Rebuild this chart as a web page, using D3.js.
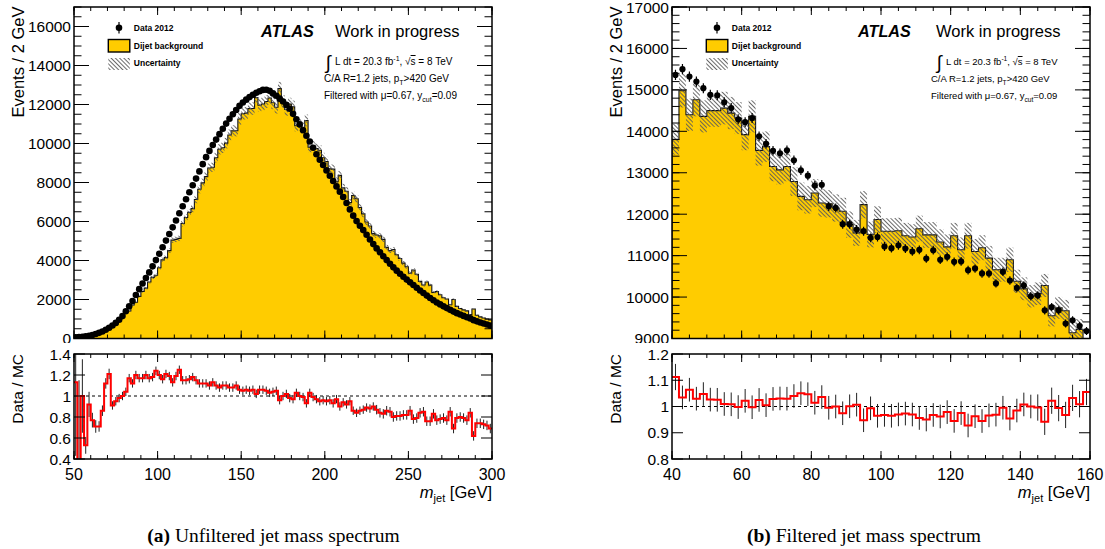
<!DOCTYPE html>
<html>
<head>
<meta charset="utf-8">
<script src="https://cdn.jsdelivr.net/npm/d3@7"></script>
<style>
  body { margin: 0; background: #fff; }
  svg { display: block; }
  text { font-family: "Liberation Sans", Arial, Helvetica, sans-serif; fill: #000; }
</style>
</head>
<body>
<svg id="fig" width="1105" height="549"></svg>
<script>
// ---------- (a) unfiltered jet mass, 2 GeV bins from 50 to 300 GeV ----------
const leftBinStart = 50, leftBinWidth = 2;
const leftData = [
  60, 70, 90, 110, 140, 180, 230, 290, 360, 450,
  550, 670, 800, 960, 1150, 1400, 1650, 1920, 2230, 2530,
  2820, 3100, 3390, 3700, 4020, 4350, 4680, 5020, 5360, 5700,
  6050, 6420, 6780, 7140, 7500, 7860, 8200, 8570, 8940, 9300,
  9620, 9920, 10200, 10480, 10760, 11020, 11270, 11500, 11720, 11930,
  12100, 12250, 12380, 12500, 12600, 12680, 12750, 12760, 12700, 12570,
  12450, 12300, 12150, 11980, 11780, 11520, 11240, 10980, 10680, 10400,
  10100, 9780, 9450, 9170, 8900, 8620, 8350, 8080, 7800, 7530,
  7260, 6950, 6620, 6300, 6020, 5780, 5560, 5320, 5080, 4840,
  4620, 4420, 4220, 4020, 3830, 3650, 3480, 3320, 3170, 3020,
  2880, 2740, 2600, 2460, 2330, 2200, 2080, 1960, 1850, 1750,
  1650, 1560, 1470, 1380, 1300, 1230, 1160, 1090, 1030, 940,
  880, 820, 770, 720, 660
];
// data / MC per bin
const leftRatio = [
  1.13, 0.35, 1.00, 0.53, 0.92, 0.77, 0.71, 0.71, 0.86, 1.12,
  1.21, 0.91, 0.95, 0.98, 1.00, 1.04, 1.17, 1.12, 1.20, 1.17,
  1.17, 1.20, 1.17, 1.18, 1.24, 1.20, 1.16, 1.21, 1.19, 1.13,
  1.19, 1.25, 1.15, 1.15, 1.16, 1.18, 1.15, 1.12, 1.12, 1.12,
  1.10, 1.13, 1.10, 1.08, 1.10, 1.10, 1.08, 1.08, 1.10, 1.06,
  1.05, 1.06, 1.05, 1.06, 1.02, 1.06, 1.06, 1.05, 1.03, 1.04,
  1.05, 0.96, 1.00, 1.02, 0.98, 0.97, 1.03, 1.00, 0.99, 0.93,
  1.03, 0.99, 0.97, 0.95, 0.96, 0.95, 0.96, 0.93, 0.97, 0.90,
  0.94, 0.92, 0.95, 0.86, 0.84, 0.86, 0.87, 0.89, 0.88, 0.90,
  0.87, 0.84, 0.83, 0.86, 0.85, 0.80, 0.81, 0.81, 0.82, 0.82,
  0.86, 0.78, 0.79, 0.84, 0.85, 0.76, 0.76, 0.83, 0.77, 0.78,
  0.79, 0.77, 0.85, 0.69, 0.79, 0.80, 0.79, 0.77, 0.84, 0.62,
  0.74, 0.74, 0.73, 0.72, 0.69
];
// absolute uncertainty on the ratio per bin
const leftRatioErr = [
  0.70, 0.80, 0.35, 0.08, 0.12, 0.07, 0.06, 0.05, 0.05, 0.05,
  0.05, 0.04, 0.04, 0.04, 0.04, 0.04, 0.04, 0.04, 0.04, 0.04,
  0.04, 0.04, 0.04, 0.04, 0.04, 0.04, 0.04, 0.04, 0.04, 0.04,
  0.04, 0.04, 0.04, 0.04, 0.04, 0.04, 0.04, 0.04, 0.04, 0.04,
  0.04, 0.04, 0.04, 0.04, 0.04, 0.04, 0.04, 0.04, 0.04, 0.04,
  0.04, 0.04, 0.04, 0.04, 0.04, 0.04, 0.04, 0.04, 0.04, 0.04,
  0.04, 0.04, 0.04, 0.04, 0.04, 0.04, 0.04, 0.04, 0.04, 0.04,
  0.04, 0.04, 0.04, 0.04, 0.04, 0.04, 0.04, 0.04, 0.04, 0.04,
  0.04, 0.04, 0.04, 0.04, 0.04, 0.04, 0.04, 0.04, 0.04, 0.04,
  0.045, 0.045, 0.045, 0.045, 0.045, 0.045, 0.045, 0.045, 0.045, 0.045,
  0.045, 0.045, 0.045, 0.045, 0.045, 0.045, 0.045, 0.045, 0.045, 0.045,
  0.045, 0.045, 0.045, 0.045, 0.045, 0.045, 0.045, 0.045, 0.045, 0.045,
  0.045, 0.045, 0.045, 0.045, 0.045
];
const leftSystRel = 0.027;
const leftXTicks = [50, 100, 150, 200, 250, 300];
const leftYTicks = [0, 2000, 4000, 6000, 8000, 10000, 12000, 14000, 16000];
const leftRatioTicks = [0.4, 0.6, 0.8, 1.0, 1.2, 1.4];

// ---------- (b) filtered jet mass, 2 GeV bins from 40 to 160 GeV ----------
const rightBinStart = 40, rightBinWidth = 2;
const rightData = [
  15360, 15500, 15320, 15200, 15040, 14880, 14870, 14700, 14560, 14290,
  14220, 14320, 13880, 13700, 13530, 13470, 13540, 13300, 13060, 12930,
  12690, 12710, 12190, 12150, 11760, 11760, 11630, 11590, 11430, 11450,
  11220, 11180, 11250, 11170, 11100, 11140, 10930, 11130, 10900, 10970,
  10850, 10860, 10650, 10690, 10570, 10570, 10330, 10610, 10400, 10220,
  10280, 10020, 10040, 9680, 9760, 9680, 9360, 9440, 9300, 9180
];
const rightMC = [
  13810, 14980, 14400, 14760, 14360, 14500, 14500, 14560, 14440, 14320,
  13920, 14360, 13540, 13630, 13150, 13070, 13150, 12790, 12430, 12350,
  12510, 12270, 12250, 12150, 12070, 11750, 11550, 12230, 11510, 11870,
  11590, 11590, 11600, 11480, 11450, 11650, 11500, 11500, 11330, 11210,
  11480, 11140, 11480, 11100, 11190, 10940, 10660, 10660, 10900, 10380,
  10200, 10020, 10080, 10280, 9550, 9740, 9670, 9140, 9220, 8700
];
const rightRatioErr = [
  0.050, 0.045, 0.045, 0.045, 0.045, 0.045, 0.045, 0.045, 0.045, 0.045,
  0.045, 0.045, 0.045, 0.045, 0.045, 0.045, 0.045, 0.045, 0.045, 0.045,
  0.045, 0.045, 0.045, 0.045, 0.045, 0.045, 0.045, 0.045, 0.045, 0.045,
  0.045, 0.045, 0.045, 0.045, 0.045, 0.045, 0.045, 0.045, 0.045, 0.045,
  0.045, 0.045, 0.045, 0.045, 0.045, 0.045, 0.045, 0.045, 0.045, 0.045,
  0.045, 0.045, 0.050, 0.050, 0.050, 0.050, 0.050, 0.050, 0.050, 0.050
];
const rightSystRel = 0.027;
const rightXTicks = [40, 60, 80, 100, 120, 140, 160];
const rightYTicks = [9000, 10000, 11000, 12000, 13000, 14000, 15000, 16000, 17000];
const rightRatioTicks = [0.8, 0.9, 1.0, 1.1, 1.2];

const captions = [
  { tag: "(a)", text: " Unfiltered jet mass spectrum" },
  { tag: "(b)", text: " Filtered jet mass spectrum" }
];

// ---------- drawing ----------
const YELLOW = "#ffcc00";
const svg = d3.select("#fig");
const defs = svg.append("defs");

const hatch = defs.append("pattern")
  .attr("id", "hatch")
  .attr("patternUnits", "userSpaceOnUse")
  .attr("width", 3).attr("height", 3)
  .attr("patternTransform", "rotate(-45)");
hatch.append("line")
  .attr("x1", 1.5).attr("y1", -1).attr("x2", 1.5).attr("y2", 4)
  .attr("stroke", "#5a5a5a").attr("stroke-width", 0.9);

const fmtRatio = v => (Math.abs(v - 1) < 1e-9 ? "1" : d3.format(".1f")(v));

function stepPath(x, y, edges, width, vals, baseY) {
  let d = "";
  vals.forEach((v, i) => {
    const xl = x(edges[i]), xr = x(edges[i] + width), yy = y(v);
    if (i === 0) d += baseY != null ? `M${xl},${baseY}L${xl},${yy}` : `M${xl},${yy}`;
    else d += `L${xl},${yy}`;
    d += `L${xr},${yy}`;
  });
  if (baseY != null) d += `L${x(edges[edges.length - 1] + width)},${baseY}Z`;
  return d;
}

function ticks(g, x, y, spec) {
  const [x0, x1] = x.range();
  const [yb, yt] = y.range();
  const tk = (x1_, y1_, x2_, y2_) => g.append("line")
    .attr("x1", x1_).attr("y1", y1_).attr("x2", x2_).attr("y2", y2_)
    .attr("stroke", "#000").attr("stroke-width", 1);
  spec.xMinor.forEach(v => { const p = x(v); tk(p, yb, p, yb - spec.xMinLen); tk(p, yt, p, yt + spec.xMinLen); });
  spec.xMajor.forEach(v => { const p = x(v); tk(p, yb, p, yb - spec.xMajLen); tk(p, yt, p, yt + spec.xMajLen); });
  spec.yMinor.forEach(v => { const p = y(v); tk(x0, p, x0 + spec.yMinLen, p); tk(x1, p, x1 - spec.yMinLen, p); });
  spec.yMajor.forEach(v => { const p = y(v); tk(x0, p, x0 + spec.yMajLen, p); tk(x1, p, x1 - spec.yMajLen, p); });
}

function drawPanel(p) {
  const edges = p.data.map((_, i) => p.binStart + i * p.binWidth);
  const x = d3.scaleLinear(p.xDomain, [p.x0, p.x1]);
  const y = d3.scaleLinear(p.yDomain, [p.yBot, p.yTop]);
  const yr = d3.scaleLinear(p.rDomain, [p.rBot, p.rTop]);

  defs.append("clipPath").attr("id", "top" + p.key).append("rect")
    .attr("x", p.x0).attr("y", p.yTop).attr("width", p.x1 - p.x0).attr("height", p.yBot - p.yTop);
  defs.append("clipPath").attr("id", "rat" + p.key).append("rect")
    .attr("x", p.x0).attr("y", p.rTop).attr("width", p.x1 - p.x0).attr("height", p.rBot - p.rTop);

  // ---- upper pad ----
  const top = svg.append("g");
  const plot = top.append("g").attr("clip-path", `url(#top${p.key})`);
  plot.append("path")
    .attr("d", stepPath(x, y, edges, p.binWidth, p.mc, p.yBot + 3))
    .attr("fill", YELLOW).attr("stroke", "#111").attr("stroke-width", 1.1);
  plot.selectAll("rect.band").data(p.mc).join("rect")
    .attr("class", "band")
    .attr("x", (d, i) => x(edges[i]))
    .attr("width", (d, i) => x(edges[i] + p.binWidth) - x(edges[i]))
    .attr("y", d => y(d * (1 + p.syst)))
    .attr("height", d => y(d * (1 - p.syst)) - y(d * (1 + p.syst)))
    .attr("fill", "url(#hatch)");
  plot.selectAll("line.err").data(p.data).join("line")
    .attr("class", "err")
    .attr("x1", (d, i) => x(edges[i] + p.binWidth / 2))
    .attr("x2", (d, i) => x(edges[i] + p.binWidth / 2))
    .attr("y1", d => y(d + Math.sqrt(d)))
    .attr("y2", d => y(d - Math.sqrt(d)))
    .attr("stroke", "#000").attr("stroke-width", 1.2);
  plot.selectAll("circle.pt").data(p.data).join("circle")
    .attr("class", "pt")
    .attr("cx", (d, i) => x(edges[i] + p.binWidth / 2))
    .attr("cy", d => y(d))
    .attr("r", p.markerR)
    .attr("fill", "#000");

  top.append("rect")
    .attr("x", p.x0).attr("y", p.yTop).attr("width", p.x1 - p.x0).attr("height", p.yBot - p.yTop)
    .attr("fill", "none").attr("stroke", "#000").attr("stroke-width", 1.5);
  ticks(top, x, y, {
    xMajor: p.xTicks, xMinor: d3.range(p.xDomain[0], p.xDomain[1] + 0.001, p.xMinorStep),
    yMajor: d3.range(p.yDomain[0], p.yDomain[1] + 1, p.yMajorStep),
    yMinor: d3.range(p.yDomain[0], p.yDomain[1] + 1, p.yMinorStep),
    xMajLen: 8, xMinLen: 4, yMajLen: 15, yMinLen: 7.5
  });
  top.selectAll("text.ylab").data(p.yTicks).join("text")
    .attr("class", "ylab")
    .attr("x", p.x0 - 3).attr("y", d => y(d)).attr("dy", "0.36em")
    .attr("text-anchor", "end").attr("font-size", 15.5)
    .text(d => d);
  top.append("text")
    .attr("transform", `translate(${p.x0 - 50.5},${p.yTop - 0.5}) rotate(-90)`)
    .attr("text-anchor", "end").attr("font-size", 16.5)
    .text("Events / 2 GeV");

  // legend
  const lg = top.append("g");
  const lx = p.x0 + 34.3;
  lg.append("line").attr("x1", lx + 10.7).attr("x2", lx + 10.7).attr("y1", 22).attr("y2", 33.5)
    .attr("stroke", "#000").attr("stroke-width", 1.2);
  lg.append("circle").attr("cx", lx + 10.7).attr("cy", 27.7).attr("r", 3.3).attr("fill", "#000");
  lg.append("rect").attr("x", lx).attr("y", 39.5).attr("width", 21.5).attr("height", 12.5)
    .attr("fill", YELLOW).attr("stroke", "#000").attr("stroke-width", 1.4);
  lg.append("rect").attr("x", lx).attr("y", 58).attr("width", 21.5).attr("height", 12)
    .attr("fill", "url(#hatch)");
  [["Data 2012", 30.8], ["Dijet background", 48.6], ["Uncertainty", 66.2]].forEach(([t, by]) =>
    lg.append("text").attr("x", lx + 25.5).attr("y", by)
      .attr("font-size", 8.5).attr("font-weight", "bold").text(t));

  // labels
  const lab = top.append("g");
  lab.append("text").attr("x", p.atlasX).attr("y", 36.5)
    .attr("font-size", 16.2).attr("font-weight", "bold").attr("font-style", "italic").text("ATLAS");
  lab.append("text").attr("x", p.wipX).attr("y", 36.5)
    .attr("font-size", 16.5).text("Work in progress");
  lab.append("text").attr("x", p.intX).attr("y", 69)
    .attr("font-size", 19).attr("font-family", "DejaVu Sans").text("\u222B");
  const l1 = lab.append("text").attr("x", p.intX + 9.5).attr("y", 65).attr("font-size", p.infoSize);
  l1.append("tspan").text("L dt = 20.3 fb");
  l1.append("tspan").attr("dy", -4).attr("font-size", p.infoSize * 0.7).text("-1");
  l1.append("tspan").attr("dy", 4).text(", \u221A");
  l1.append("tspan").attr("text-decoration", "overline").text("s");
  l1.append("tspan").text(" = 8 TeV");
  const l2 = lab.append("text").attr("x", p.infoX).attr("y", 82).attr("font-size", p.infoSize);
  l2.append("tspan").text("C/A R=1.2 jets, p");
  l2.append("tspan").attr("dy", 3).attr("font-size", p.infoSize * 0.7).text("T");
  l2.append("tspan").attr("dy", -3).text(">420 GeV");
  const l3 = lab.append("text").attr("x", p.infoX).attr("y", 99).attr("font-size", p.infoSize);
  l3.append("tspan").text("Filtered with \u03BC=0.67, y");
  l3.append("tspan").attr("dy", 3).attr("font-size", p.infoSize * 0.7).text("cut");
  l3.append("tspan").attr("dy", -3).text("=0.09");

  // ---- lower (ratio) pad, drawn over the lower edge of the upper pad ----
  const rat = svg.append("g");
  rat.append("rect").attr("x", p.padX0).attr("y", 343).attr("width", p.padW).attr("height", 160).attr("fill", "#fff");
  const rplot = rat.append("g").attr("clip-path", `url(#rat${p.key})`);
  rplot.append("line").attr("x1", p.x0).attr("x2", p.x1).attr("y1", yr(1)).attr("y2", yr(1))
    .attr("stroke", "#000").attr("stroke-width", 1).attr("stroke-dasharray", "3,3");
  rplot.selectAll("line.rerr").data(p.ratio).join("line")
    .attr("class", "rerr")
    .attr("x1", (d, i) => x(edges[i] + p.binWidth / 2))
    .attr("x2", (d, i) => x(edges[i] + p.binWidth / 2))
    .attr("y1", (d, i) => yr(d + p.ratioErr[i]))
    .attr("y2", (d, i) => yr(d - p.ratioErr[i]))
    .attr("stroke", "#222").attr("stroke-width", 1);
  rplot.append("path")
    .attr("d", stepPath(x, yr, edges, p.binWidth, p.ratio, null))
    .attr("fill", "none").attr("stroke", "#ff0000").attr("stroke-width", 2);
  rat.append("rect")
    .attr("x", p.x0).attr("y", p.rTop).attr("width", p.x1 - p.x0).attr("height", p.rBot - p.rTop)
    .attr("fill", "none").attr("stroke", "#000").attr("stroke-width", 1.5);
  ticks(rat, x, yr, {
    xMajor: p.xTicks, xMinor: d3.range(p.xDomain[0], p.xDomain[1] + 0.001, p.xMinorStep),
    yMajor: p.rTicks, yMinor: [],
    xMajLen: 8, xMinLen: 4, yMajLen: 11, yMinLen: 0
  });
  rat.selectAll("text.rylab").data(p.rTicks).join("text")
    .attr("class", "rylab")
    .attr("x", p.x0 - 3).attr("y", d => yr(d)).attr("dy", "0.36em")
    .attr("text-anchor", "end").attr("font-size", 15.5)
    .text(fmtRatio);
  rat.selectAll("text.xlab").data(p.xTicks).join("text")
    .attr("class", "xlab")
    .attr("x", d => x(d)).attr("y", 479.5)
    .attr("text-anchor", "middle").attr("font-size", 16)
    .text(d => d);
  rat.append("text")
    .attr("transform", `translate(${p.x0 - 51},${p.rTop}) rotate(-90)`)
    .attr("text-anchor", "end").attr("font-size", 15.5)
    .text("Data / MC");
  const xt = rat.append("text").attr("x", p.x1).attr("y", 498).attr("text-anchor", "end").attr("font-size", 16.5);
  xt.append("tspan").attr("font-style", "italic").text("m");
  xt.append("tspan").attr("dy", 3.5).attr("font-size", 11).text("jet");
  xt.append("tspan").attr("dy", -3.5).text(" [GeV]");

  // caption
  const cap = svg.append("text").attr("x", p.capX).attr("y", 542)
    .attr("text-anchor", "middle")
    .style("font-family", "'Liberation Serif', 'DejaVu Serif', serif")
    .attr("font-size", 19.5);
  cap.append("tspan").attr("font-weight", "bold").text(p.caption.tag);
  cap.append("tspan").text(p.caption.text);
}

drawPanel({
  key: "L", data: leftData,
  mc: leftData.map((d, i) => d / leftRatio[i]),
  ratio: leftRatio, ratioErr: leftRatioErr, syst: leftSystRel,
  binStart: leftBinStart, binWidth: leftBinWidth,
  xDomain: [50, 300], yDomain: [0, 17000], rDomain: [0.4, 1.4],
  x0: 74, x1: 492, yTop: 7, yBot: 338.5, rTop: 354, rBot: 459,
  xTicks: leftXTicks, xMinorStep: 10, yTicks: leftYTicks, yMajorStep: 2000, yMinorStep: 500,
  rTicks: leftRatioTicks, markerR: 3.3,
  atlasX: 261, wipX: 335, intX: 325.5, infoX: 324, infoSize: 10,
  padX0: 0, padW: 520, capX: 273.5, caption: captions[0]
});

drawPanel({
  key: "R", data: rightData,
  mc: rightMC,
  ratio: rightData.map((d, i) => d / rightMC[i]),
  ratioErr: rightRatioErr, syst: rightSystRel,
  binStart: rightBinStart, binWidth: rightBinWidth,
  xDomain: [40, 160], yDomain: [9000, 17000], rDomain: [0.8, 1.2],
  x0: 672, x1: 1090, yTop: 7, yBot: 338.5, rTop: 354, rBot: 459,
  xTicks: rightXTicks, xMinorStep: 5, yTicks: rightYTicks, yMajorStep: 1000, yMinorStep: 200,
  rTicks: rightRatioTicks, markerR: 3.1,
  atlasX: 858, wipX: 936, intX: 936.5, infoX: 931, infoSize: 9.5,
  padX0: 560, padW: 545, capX: 864, caption: captions[1]
});
</script>
</body>
</html>
